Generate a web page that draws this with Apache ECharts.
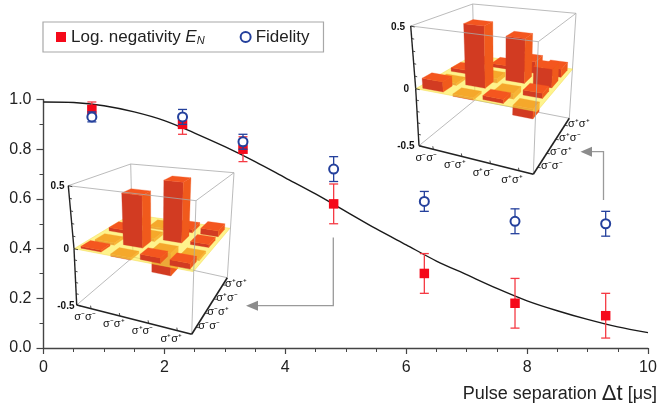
<!DOCTYPE html>
<html><head><meta charset="utf-8">
<style>html,body{margin:0;padding:0;background:#fff}#c{width:658px;height:407px}</style>
<script src="https://cdn.jsdelivr.net/npm/echarts@6/dist/echarts.min.js"></script>
</head><body><div id="c"></div>
<script>
// ---- main chart data ----
const fitX = [0,0.5,1,1.5,2,2.5,3,3.5,4,4.5,5,5.5,6,6.5,7,7.5,8,8.5,9,9.5,10];
const fitY = [0.99,0.988,0.975,0.95,0.915,0.865,0.81,0.75,0.685,0.62,0.55,0.48,0.415,0.35,0.295,0.24,0.19,0.15,0.115,0.085,0.062];
const pulseX = [0.8,2.3,3.3,4.8,6.3,7.8,9.3];
const negativity = [0.96,0.90,0.80,0.58,0.30,0.18,0.13];
const negLow = [0.93,0.86,0.75,0.50,0.22,0.08,0.04];
const negHigh = [0.99,0.93,0.85,0.66,0.38,0.28,0.22];
const fidelity = [0.93,0.93,0.83,0.72,0.59,0.51,0.50];
const fidLow = [0.91,0.90,0.80,0.67,0.55,0.46,0.45];
const fidHigh = [0.95,0.96,0.86,0.77,0.63,0.56,0.55];
// ---- inset matrices: row = right-hand axis index, column = front axis index ----
const basisLabels = ['σ⁻σ⁻','σ⁻σ⁺','σ⁺σ⁻','σ⁺σ⁺'];
const zTickLabels = ['0.5','0','-0.5'];
const leftMatrix = [
 [0.015,-0.02,0.04,0.04],
 [-0.02,0.42,-0.2,-0.02],
 [0.03,-0.03,0.5,0.025],
 [-0.02,-0.02,0.03,0.05]
];
const rightMatrix = [
 [0.08,-0.02,0.03,-0.08],
 [-0.02,0.5,-0.05,0.04],
 [0.03,-0.04,0.37,0.15],
 [0.02,0.03,0.1,0.07]
];
// ---- inset layouts (projected box corners, pixels) ----
const leftBox = {
 top:{L:[68.3,185.7],F:[196,200.7],R:[234,172.7],B:[130.7,164]},
 mid:{L:[74,248.7],F:[193.3,271.7],R:[230,228.3],B:[131,214.3]},
 bot:{L:[76.7,305],F:[191.7,334.3],R:[227.3,277.7],B:[133,257]},
 zLabelX:[64.5,69,74.5], uOff:[-6,8], vOff:[13,-1]
};
const rightBox = {
 top:{L:[410.7,26],F:[538.3,41.7],R:[576,13.3],B:[472.7,4]},
 mid:{L:[415.7,88.7],F:[536.7,111.7],R:[572.7,69],B:[473.3,55]},
 bot:{L:[419,145.7],F:[533.3,174.3],R:[569.3,118.3],B:[475,100]},
 zLabelX:[405,409,414.5], uOff:[-7,9], vOff:[14,-1]
};
const lerp=(a,b,t)=>[a[0]+(b[0]-a[0])*t,a[1]+(b[1]-a[1])*t];
function project(box,u,v,w){
  const lev=(q)=>lerp(lerp(q.L,q.F,u),lerp(q.B,q.R,u),v);
  return w>=0?lerp(lev(box.mid),lev(box.top),w/0.5):lerp(lev(box.mid),lev(box.bot),-w/0.5);
}
const HALF=0.085;
function barFaces(box,i,j,val){
  const u0=(i+.5)/4-HALF, u1=(i+.5)/4+HALF;
  const v0=(j+.5)/4-HALF, v1=(j+.5)/4+HALF;
  const hi=Math.max(val,0), lo=Math.min(val,0);
  const poly=(pts,c)=>({type:'polygon',shape:{points:pts},style:{fill:c,stroke:c,lineWidth:0.3}});
  return [
    poly([project(box,u0,v0,lo),project(box,u1,v0,lo),project(box,u1,v0,hi),project(box,u0,v0,hi)],'#d23b22'),
    poly([project(box,u1,v0,lo),project(box,u1,v1,lo),project(box,u1,v1,hi),project(box,u1,v0,hi)],'#f05a1c'),
    poly([project(box,u0,v0,hi),project(box,u1,v0,hi),project(box,u1,v1,hi),project(box,u0,v1,hi)],val<0?'#e73a00':'#f4561f')
  ];
}
function seg(a,b,c,w){return {type:'line',shape:{x1:a[0],y1:a[1],x2:b[0],y2:b[1]},style:{stroke:c,lineWidth:w}};}
const FRAME='#aaaaaa';
function backFrame(box){
  const t=box.top,b=box.bot;
  return [seg(t.L,t.B,FRAME,.8),seg(t.B,t.R,FRAME,.8),seg(t.B,b.B,FRAME,.8),seg(b.L,b.B,FRAME,.8),seg(b.B,b.R,FRAME,.8),seg(t.R,b.R,FRAME,.8)];
}
function frontFrame(box){
  const t=box.top,b=box.bot,els=[];
  els.push(seg(t.L,t.F,FRAME,.8),seg(t.F,t.R,FRAME,.8),seg(t.F,b.F,FRAME,.8));
  const A='#222';
  els.push(seg(t.L,box.mid.L,A,1.4),seg(box.mid.L,b.L,A,1.4),seg(b.L,b.F,A,1.6),seg(b.F,b.R,A,1.6));
  for(let k=-5;k<=5;k++){
    const p=project(box,0,0,k/10), big=k%5===0;
    els.push(seg(p,[p[0]+(big?4:2.5),p[1]+(big?1:.6)],A,.8));
  }
  const font='bold 10px "Liberation Sans"';
  [0.5,0,-0.5].forEach((w,n)=>{
    const p=project(box,0,0,w);
    els.push({type:'text',style:{text:zTickLabels[n],x:box.zLabelX[n],y:p[1]+1,align:'right',verticalAlign:'middle',font:font,fill:'#111'}});
  });
  basisLabels.forEach((s,n)=>{
    const f=(n+.5)/4;
    const pu=lerp(b.L,b.F,f), pv=lerp(b.F,b.R,f);
    els.push(seg(pu,[pu[0]-.5,pu[1]-3],A,.8),seg(pv,[pv[0]+3,pv[1]+.5],A,.8));
    els.push({type:'text',style:{text:s,x:pu[0]+box.uOff[0],y:pu[1]+box.uOff[1],align:'center',verticalAlign:'middle',font:'11px "Liberation Sans"',fill:'#111'}});
    els.push({type:'text',style:{text:s,x:pv[0]+box.vOff[0],y:pv[1]+box.vOff[1],align:'center',verticalAlign:'middle',font:'11px "Liberation Sans"',fill:'#111'}});
  });
  return els;
}
function insetSeries(box,matrix,name){
  const items=[];                 // kind: 0 back frame, 1 bar, 2 plane, 3 front frame
  items.push([0,0,0,0]);
  const cells=[];
  matrix.forEach((row,j)=>row.forEach((val,i)=>cells.push([1,i,j,val])));
  const order=(a,b)=>(a[1]-a[2])-(b[1]-b[2]);
  cells.filter(c=>c[3]<0).sort(order).forEach(c=>items.push(c));
  items.push([2,0,0,0]);
  cells.filter(c=>c[3]>=0).sort(order).forEach(c=>items.push(c));
  items.push([3,0,0,0]);
  return {type:'custom',name:name,coordinateSystem:'none',silent:true,z:5,clip:false,data:items,
    renderItem:(params,api)=>{
      const kind=api.value(0);
      if(kind===0) return {type:'group',children:backFrame(box)};
      if(kind===3) return {type:'group',children:frontFrame(box)};
      if(kind===2){
        const m=box.mid;
        return {type:'polygon',shape:{points:[m.L,m.F,m.R,m.B]},style:{fill:'rgba(253,236,70,0.62)',stroke:'rgba(240,210,60,0.8)',lineWidth:.5}};
      }
      return {type:'group',children:barFaces(box,api.value(1),api.value(2),api.value(3))};
    }};
}
function errorSeries(name,low,high,color,z){
  return {type:'custom',name:name,z:z,silent:true,
    data:pulseX.map((x,k)=>[x,low[k],high[k]]),
    encode:{x:0,y:[1,2]},
    renderItem:(params,api)=>{
      const a=api.coord([api.value(0),api.value(1)]), b=api.coord([api.value(0),api.value(2)]);
      const cap=4.5;
      return {type:'group',children:[
        seg(a,b,color,1.3),
        seg([a[0]-cap,a[1]],[a[0]+cap,a[1]],color,1.3),
        seg([b[0]-cap,b[1]],[b[0]+cap,b[1]],color,1.3)]};
    }};
}
const RED='#f5091a', BLUE='#24409c', ERR_RED='#f53a44';
const chart=echarts.init(document.getElementById('c'));
chart.setOption({
  animation:false,
  textStyle:{fontFamily:'"Liberation Sans"'},
  grid:{left:43.5,right:10,top:99.5,bottom:59,containLabel:false,outerBoundsMode:'none'},
  legend:{left:43,top:22,orient:'horizontal',data:['Log. negativity EN','Fidelity'],
    itemWidth:10,itemHeight:10,itemGap:35,padding:[6,14,6,13],borderColor:'#a8a8a8',borderWidth:1.2,
    selectedMode:false,
    formatter:n=>n==='Fidelity'?'{a|Fidelity}':'{a|Log. negativity }{e|E}{n|N}',
    textStyle:{rich:{a:{fontSize:17,color:'#222',fontFamily:'"Liberation Sans"',lineHeight:22},
      e:{fontSize:17,fontStyle:'italic',color:'#222',fontFamily:'"Liberation Sans"',lineHeight:22},
      n:{fontSize:11,fontStyle:'italic',color:'#222',fontFamily:'"Liberation Sans"',padding:[7,0,0,0],lineHeight:14}}}},
  xAxis:{type:'value',min:0,max:10,interval:2,
    axisLine:{show:true,onZero:false,lineStyle:{color:'#444',width:1.4}},
    axisTick:{show:true,length:6,lineStyle:{color:'#444',width:1.2}},
    minorTick:{show:true,splitNumber:4,length:4,lineStyle:{color:'#444',width:1}},
    splitLine:{show:false},minorSplitLine:{show:false},
    axisLabel:{fontSize:16,color:'#222',margin:12,fontFamily:'"Liberation Sans"',showMinLabel:true,showMaxLabel:true},
    name:'{a|Pulse separation }{d|Δt}{a| [μs]}',nameLocation:'end',nameGap:9,
    nameTextStyle:{align:'right',verticalAlign:'top',padding:[35,0,0,0],
      rich:{a:{fontSize:18,color:'#222',fontFamily:'"Liberation Sans"'},d:{fontSize:22,color:'#222',fontFamily:'"Liberation Sans"'}}}},
  yAxis:{type:'value',min:0,max:1,interval:0.2,
    axisLine:{show:true,onZero:false,lineStyle:{color:'#444',width:1.4}},
    axisTick:{show:true,length:7,lineStyle:{color:'#444',width:1.2}},
    minorTick:{show:true,splitNumber:2,length:4,lineStyle:{color:'#444',width:1}},
    splitLine:{show:false},minorSplitLine:{show:false},
    axisLabel:{fontSize:16,color:'#222',margin:12,formatter:v=>v.toFixed(1),fontFamily:'"Liberation Sans"'}},
  series:[
    {type:'line',name:'fit',data:fitX.map((x,k)=>[x,fitY[k]]),smooth:0.3,symbol:'none',z:3,silent:true,
     lineStyle:{color:'#1a1a1a',width:1.4},clip:false},
    errorSeries('negErr',negLow,negHigh,ERR_RED,4),
    {type:'scatter',name:'Log. negativity EN',data:pulseX.map((x,k)=>[x,negativity[k]]),symbol:'rect',symbolSize:9.5,z:4,
     itemStyle:{color:RED,opacity:1},clip:false},
    errorSeries('fidErr',fidLow,fidHigh,BLUE,6),
    {type:'scatter',name:'Fidelity',data:pulseX.map((x,k)=>[x,fidelity[k]]),symbol:'circle',symbolSize:9,z:6,
     itemStyle:{color:'#fff',borderColor:BLUE,borderWidth:2,opacity:1},clip:false},
    insetSeries(leftBox,leftMatrix,'leftInset'),
    insetSeries(rightBox,rightMatrix,'rightInset')
  ],
  graphic:[
    {type:'polyline',shape:{points:[[333.3,237.5],[333.3,305.7],[258,305.7]]},style:{stroke:'#9a9a9a',lineWidth:1.3,fill:null},z:2},
    {type:'polygon',shape:{points:[[246,305.7],[258,300.7],[258,310.7]]},style:{fill:'#8c8c8c'},z:2},
    {type:'polyline',shape:{points:[[603.5,200],[603.5,151.7],[592,151.7]]},style:{stroke:'#9a9a9a',lineWidth:1.3,fill:null},z:2},
    {type:'polygon',shape:{points:[[580.5,151.7],[592,146.7],[592,156.7]]},style:{fill:'#8c8c8c'},z:2}
  ]
});
</script></body></html>
